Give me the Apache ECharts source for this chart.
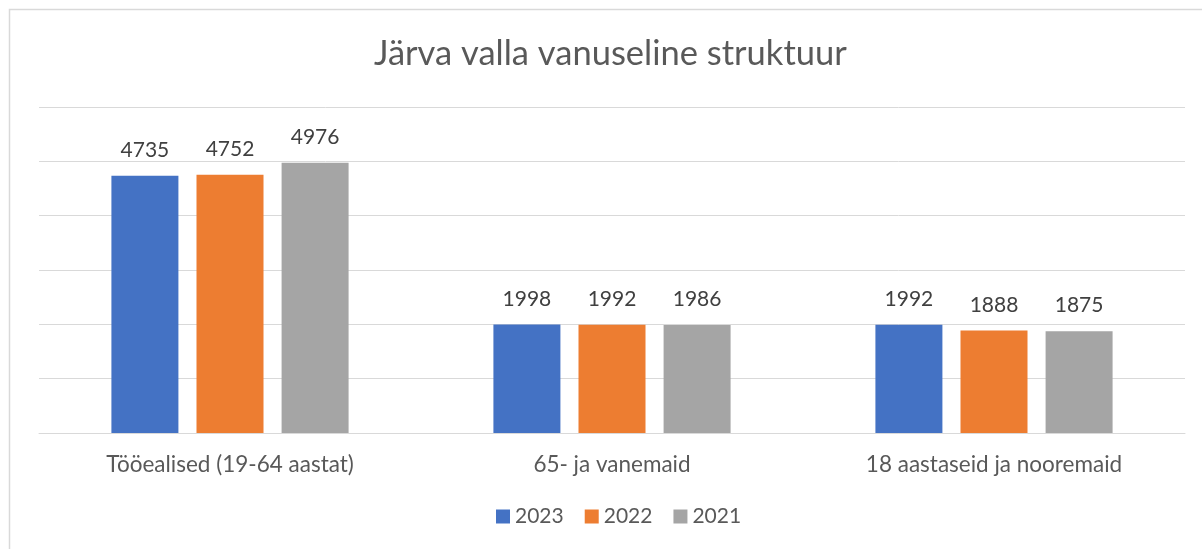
<!DOCTYPE html>
<html>
<head>
<meta charset="utf-8">
<script src="https://cdn.jsdelivr.net/npm/echarts@6/dist/echarts.min.js"></script>
<style>
html,body{margin:0;padding:0;background:#fff;}
#c{width:1202px;height:549px;}
</style>
</head>
<body>
<div id="c"></div>
<script>
const title = 'Järva valla vanuseline struktuur';
const categories = ['Tööealised (19-64 aastat)', '65- ja vanemaid', '18 aastaseid ja nooremaid'];
const seriesNames = ['2023', '2022', '2021'];
const values2023 = [4735, 1998, 1992];
const values2022 = [4752, 1992, 1888];
const values2021 = [4976, 1986, 1875];
const colors = ['#4472C4', '#ED7D31', '#A5A5A5'];
const FONT = 'Lato';

const chart = echarts.init(document.getElementById('c'));
const dataSets = [values2023, values2022, values2021];
chart.setOption({
  animation: false,
  backgroundColor: '#fff',
  color: colors,
  title: {
    text: title,
    left: 369,
    top: 31,
    padding: 5,
    textStyle: {fontFamily: FONT, fontSize: 34.5, fontWeight: 'normal', color: '#595959'}
  },
  legend: {
    data: seriesNames,
    bottom: 17,
    left: 491,
    itemWidth: 14,
    itemHeight: 14,
    itemGap: 21,
    icon: 'rect',
    textStyle: {fontFamily: FONT, fontSize: 21, color: '#595959'}
  },
  grid: {left: 39, right: 17, top: 107, bottom: 116},
  xAxis: {
    type: 'category',
    data: categories,
    axisLine: {lineStyle: {color: '#D9D9D9', width: 1}},
    axisTick: {show: false},
    axisLabel: {fontFamily: FONT, fontSize: 22.5, color: '#595959', margin: 20}
  },
  yAxis: {
    type: 'value',
    min: 0,
    max: 6000,
    interval: 1000,
    axisLabel: {show: false},
    axisLine: {show: false},
    axisTick: {show: false},
    splitLine: {lineStyle: {color: '#D9D9D9', width: 1}}
  },
  graphic: [{
    type: 'rect',
    shape: {x: 9.5, y: 9.5, width: 1400, height: 700},
    style: {fill: 'none', stroke: '#D9D9D9', lineWidth: 1.5},
    silent: true
  }],
  series: seriesNames.map((n, i) => ({
    name: n,
    type: 'bar',
    data: dataSets[i],
    barWidth: 67,
    barGap: '27%',
    label: {
      show: true,
      position: 'top',
      distance: 15,
      fontFamily: FONT,
      fontSize: 21,
      color: '#404040'
    }
  }))
});
</script>
</body>
</html>
